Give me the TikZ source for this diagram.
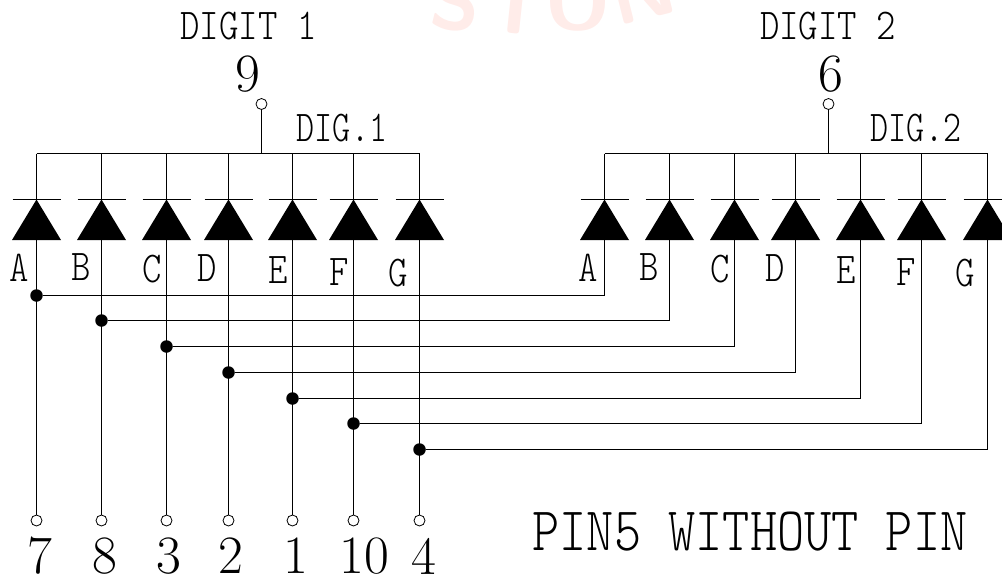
\documentclass[tikz,border=0pt]{standalone}
\usepackage{xcolor}
\usepackage{tikz}
\definecolor{markred}{RGB}{255,236,233}
\tikzset{
  pinhole/.style={circle, draw, fill=white, line width=0.8pt, inner sep=0pt, minimum size=11pt},
  joint/.style={circle, fill=black, inner sep=0pt, minimum size=12.5pt},
  wire/.style={line width=1.3pt},
  segname/.style={font=\fontsize{44}{44}\fontseries{l}\ttfamily, xscale=0.84, inner sep=0pt},
  pinnum/.style={font=\fontsize{54}{54}\rmfamily, inner sep=0pt},
  markchar/.style={text=markred, font=\fontsize{82}{82}\sffamily\bfseries, inner sep=0pt},
}
\begin{document}
\begin{tikzpicture}[x=1pt, y=-1pt]
    \useasboundingbox (0,0) rectangle (1002,576);
    % faint mark behind the drawing
    \node[markchar, rotate=-4] (mark1) at (455,1) {S};
    \node[markchar, rotate=-6] (mark2) at (516,6) {T};
    \node[markchar] (mark3) at (578,1) {O};
    \node[markchar, rotate=14] (mark4) at (642,-9) {N};
    % both digits, cathodes on one bus
    \foreach \d/\xbus/\xlast/\xpin in {1/36.5/419.5/261.5, 2/604.5/988/828.5}
      {
        \coordinate (busL\d) at (\xbus,153.5);
        \coordinate (busR\d) at (\xlast,153.5);
        \coordinate (tap\d) at (\xpin,153.5);
        \node[pinhole] (com\d) at (\xpin,104) {};
        \draw[wire] (busL\d) -- (busR\d);
        \draw[wire] (com\d) -- (tap\d);
      }
    \foreach \n/\x/\y/\xx in {A/36.5/295.5/604.5, B/101.5/320.5/669.5, C/166.5/346.5/734.5, D/228.5/372.5/795.5, E/292.5/398.5/860.5, F/353.5/423.5/921.5, G/419.5/449.5/987.5}
      {
        \coordinate (top1\n) at (\x,153.5);
        \coordinate (top2\n) at (\xx,153.5);
        \coordinate (base1\n) at (\x,240);
        \coordinate (base2\n) at (\xx,240);
        \draw[wire] (top1\n) -- (\x,200);
        \draw[wire] (top2\n) -- (\xx,200);
        \draw[line width=1pt] (\x-24,199.5) -- ++(48,0);
        \draw[line width=1pt] (\xx-24,199.5) -- ++(48,0);
        \fill (\x,199.5) -- (\x+24.5,240) -- (\x-24.5,240) -- cycle;
        \fill (\xx,199.5) -- (\xx+24.5,240) -- (\xx-24.5,240) -- cycle;
        \node[pinhole] (pin\n) at (\x,520.5) {};
        \node[joint] (dot\n) at (\x,\y) {};
        \draw[wire] (base1\n) -- (pin\n);
        \draw[wire] (dot\n) -| (base2\n);
      }
    % segment letters
    \foreach \t/\x/\y/\xx in {A/19.5/268/588, B/81/267/649, C/152/269/720, D/207/268/775, E/278/270/846, F/339/272/906, G/398/273/965}
      {
        \node[segname] (name1\t) at (\x,\y) {\t};
        \node[segname] (name2\t) at (\xx,\y) {\t};
      }
    \node[segname] (dig1) at (248.5,26) {DIGIT 1};
    \node[segname] (dig2) at (828,26) {DIGIT 2};
    \node[segname, xscale=0.93] (lab1) at (342,128) {DIG.1};
    \node[segname, xscale=0.93] (lab2) at (916,128) {DIG.2};
    \node[pinnum] (num9) at (248,74) {9};
    \node[pinnum] (num6) at (831,74) {6};
    \foreach \t/\x in {7/40, 8/105, 3/169, 2/231, 1/296, 10/364, 4/424}
        \node[pinnum] (num\t) at (\x,556) {\t};
    \node[font=\fontsize{62}{62}\fontseries{l}\ttfamily, xscale=0.835, inner sep=0pt] (note) at (750,532) {PIN5 WITHOUT PIN};
\end{tikzpicture}
\end{document}
